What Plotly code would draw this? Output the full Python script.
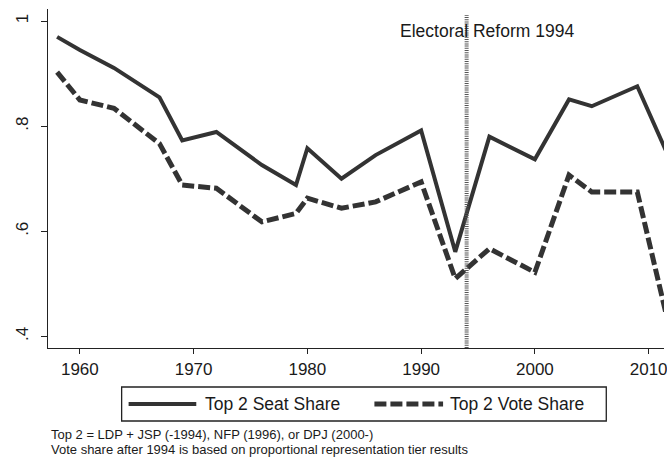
import plotly.graph_objects as go

# Lower-house general elections, Japan
years = [1958, 1960, 1963, 1967, 1969, 1972, 1976, 1979, 1980, 1983, 1986,
         1990, 1993, 1996, 2000, 2003, 2005, 2009, 2012]
seat_share = [0.970, 0.945, 0.911, 0.855, 0.773, 0.789, 0.726, 0.688, 0.758,
              0.700, 0.745, 0.792, 0.561, 0.780, 0.737, 0.851, 0.838, 0.876,
              0.730]
vote_share = [0.903, 0.850, 0.834, 0.767, 0.688, 0.682, 0.618, 0.634, 0.663,
              0.644, 0.656, 0.694, 0.510, 0.567, 0.522, 0.707, 0.675, 0.675,
              0.400]

series_names = ["Top 2 Seat Share", "Top 2 Vote Share"]
reform_year = 1994
reform_label = "Electoral Reform 1994"

x_tick_vals = [1960, 1970, 1980, 1990, 2000, 2010]
y_tick_vals = [0.4, 0.6, 0.8, 1.0]
y_tick_text = [".4", ".6", ".8", "1"]

notes = [
    "Top 2 = LDP + JSP (-1994), NFP (1996), or DPJ (2000-)",
    "Vote share after 1994 is based on proportional representation tier results",
]

W, H = 667, 464
M_L, M_R, M_T, M_B = 48, 0, 9, 116
PLOT_W = W - M_L - M_R
PLOT_H = H - M_T - M_B

FONT = "Liberation Sans, Arial, Helvetica, sans-serif"
INK = "#333333"
AXIS = "#222222"
TEXT = "#1a1a1a"


def px(xp):
    """Pixel column -> paper x."""
    return (xp - M_L) / PLOT_W


def py(yp):
    """Pixel row -> paper y."""
    return (H - M_B - yp) / PLOT_H


fig = go.Figure()
fig.add_trace(go.Scatter(
    x=years, y=seat_share, mode="lines", name=series_names[0],
    line=dict(color=INK, width=4), showlegend=False,
))
fig.add_trace(go.Scatter(
    x=years, y=vote_share, mode="lines", name=series_names[1],
    line=dict(color=INK, width=5, dash="12px,4px"), showlegend=False,
))

shapes = [
    # reform marker
    dict(type="line", xref="x", yref="paper", x0=reform_year, x1=reform_year,
         y0=0, y1=0.982, line=dict(color="#555555", width=4, dash="1px,1.2px"),
         layer="above"),
    # legend frame
    dict(type="rect", xref="paper", yref="paper",
         x0=px(122), x1=px(609), y0=py(421), y1=py(387),
         line=dict(color=AXIS, width=1.3), fillcolor="white"),
    # legend samples
    dict(type="line", xref="paper", yref="paper",
         x0=px(129), x1=px(197), y0=py(404), y1=py(404),
         line=dict(color=INK, width=4)),
    dict(type="line", xref="paper", yref="paper",
         x0=px(376), x1=px(445), y0=py(404), y1=py(404),
         line=dict(color=INK, width=5, dash="12px,4px")),
]

annotations = [
    dict(text=reform_label, xref="x", yref="y", x=1988.0, y=0.981,
         xanchor="left", yanchor="middle", showarrow=False,
         font=dict(family=FONT, size=17.5, color=TEXT)),
    dict(text=series_names[0], xref="paper", yref="paper", x=px(204), y=py(404),
         xanchor="left", yanchor="middle", showarrow=False,
         font=dict(family=FONT, size=17.5, color=TEXT)),
    dict(text=series_names[1], xref="paper", yref="paper", x=px(450), y=py(404),
         xanchor="left", yanchor="middle", showarrow=False,
         font=dict(family=FONT, size=17.5, color=TEXT)),
    dict(text=notes[0], xref="paper", yref="paper", x=px(49), y=py(434),
         xanchor="left", yanchor="middle", showarrow=False,
         font=dict(family=FONT, size=13, color=TEXT)),
    dict(text=notes[1], xref="paper", yref="paper", x=px(49), y=py(449),
         xanchor="left", yanchor="middle", showarrow=False,
         font=dict(family=FONT, size=13, color=TEXT)),
]

fig.update_layout(
    width=W, height=H,
    margin=dict(l=M_L, r=M_R, t=M_T, b=M_B, pad=0),
    paper_bgcolor="white", plot_bgcolor="white",
    showlegend=False,
    shapes=shapes,
    annotations=annotations,
    xaxis=dict(
        range=[1957.2, 2011.35], tickmode="array", tickvals=x_tick_vals,
        ticks="outside", ticklen=5, tickwidth=1.3, tickcolor=AXIS,
        showline=True, linecolor=AXIS, linewidth=1.3,
        showgrid=False, zeroline=False, ticklabeloverflow="allow",
        tickfont=dict(family=FONT, size=17, color=TEXT),
    ),
    yaxis=dict(
        range=[0.378, 1.023], tickmode="array", tickvals=y_tick_vals,
        ticktext=y_tick_text, tickangle=-90, ticklabelstandoff=6,
        ticks="outside", ticklen=6, tickwidth=1.3, tickcolor=AXIS,
        showline=True, linecolor=AXIS, linewidth=1.3,
        showgrid=False, zeroline=False,
        tickfont=dict(family=FONT, size=17, color=TEXT),
    ),
)

fig.write_html("out.html")
